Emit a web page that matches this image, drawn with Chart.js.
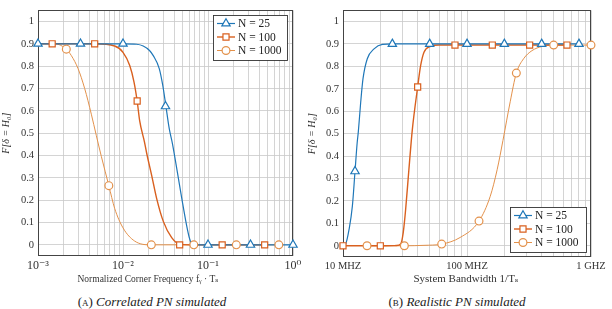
<!DOCTYPE html>
<html><head><meta charset="utf-8">
<script src="https://cdn.jsdelivr.net/npm/chart.js@4.4.1/dist/chart.umd.min.js"></script>
<style>
html,body{margin:0;padding:0;background:#fff;width:612px;height:309px;overflow:hidden}
.wrap{position:absolute;top:0;width:306px;height:290px}
#w1{left:0}#w2{left:306px}
.cap{position:absolute;top:294px;width:306px;text-align:center;font-family:"Liberation Serif","DejaVu Serif",serif;font-size:13px;color:#222;line-height:15px}
.cap i{font-style:italic}
.sc{font-variant:small-caps}
</style></head><body>
<div class="wrap" id="w1"><canvas id="c1" width="306" height="290"></canvas></div>
<div class="wrap" id="w2"><canvas id="c2" width="306" height="290"></canvas></div>
<div class="cap" style="left:-1px"><span class="sc">(a)</span> <i>Correlated PN simulated</i></div>
<div class="cap" style="left:304px"><span class="sc">(b)</span> <i>Realistic PN simulated</i></div>
<script>
// ---------- tick labels ----------
const xTickValsA = [1e-3, 1e-2, 1e-1, 1];
const xTickLabelsA = ['10\u207B\u00B3', '10\u207B\u00B2', '10\u207B\u00B9', '10\u2070'];
const xTickValsB = [1e7, 1e8, 1e9];
const xTickLabelsB = ['10 MHZ', '100 MHZ', '1 GHZ'];
const yTickVals = [0, 0.1, 0.2, 0.3, 0.4, 0.5, 0.6, 0.7, 0.8, 0.9, 1];
const yTickLabels = ['0', '0.1', '0.2', '0.3', '0.4', '0.5', '0.6', '0.7', '0.8', '0.9', '1'];
const seriesLabels = ['N = 25', 'N = 100', 'N = 1000'];

// ---------- chart A: Correlated PN simulated ----------
const a25MarkX = [1e-3, 3.162e-3, 1e-2, 3.162e-2, 0.1, 0.3162, 1];
const a25MarkY = [0.9, 0.9, 0.9, 0.62, 0, 0, 0];
const a25CurveX = [1e-3, 1e-2, 0.0145, 0.0173, 0.0205, 0.0227, 0.0267, 0.0293, 0.0318, 0.0350, 0.0381, 0.0437, 0.0492, 0.0555, 0.0610, 0.0660, 0.1, 1];
const a25CurveY = [0.9, 0.9, 0.898, 0.89, 0.87, 0.847, 0.789, 0.716, 0.627, 0.52, 0.454, 0.323, 0.207, 0.095, 0.025, 0, 0, 0];

const a100MarkX = [1.468e-3, 4.642e-3, 1.468e-2, 4.642e-2, 0.1468, 0.4642];
const a100MarkY = [0.9, 0.9, 0.644, 0, 0, 0];
const a100CurveX = [1e-3, 4.642e-3, 7.98e-3, 0.01, 0.012, 0.01346, 0.01468, 0.0157, 0.0179, 0.0190, 0.0218, 0.0249, 0.0298, 0.0374, 0.0464, 0.06, 0.4642];
const a100CurveY = [0.9, 0.9, 0.89, 0.862, 0.803, 0.73, 0.644, 0.556, 0.46, 0.41, 0.309, 0.207, 0.105, 0.032, 0.003, 0, 0];

const a1000MarkX = [2.154e-3, 6.813e-3, 2.154e-2, 6.813e-2, 0.2154, 0.6813];
const a1000MarkY = [0.876, 0.265, 0, 0, 0, 0];
const a1000CurveX = [1e-3, 1.6e-3, 1.85e-3, 2.154e-3, 2.47e-3, 2.96e-3, 3.54e-3, 4.24e-3, 4.85e-3, 5.56e-3, 6.813e-3, 7.98e-3, 0.01, 0.0137, 0.0215, 0.6813];
const a1000CurveY = [0.9, 0.9, 0.893, 0.876, 0.847, 0.789, 0.70, 0.585, 0.49, 0.396, 0.265, 0.163, 0.076, 0.017, 0, 0];

// ---------- chart B: Realistic PN simulated ----------
const b25MarkX = [1.25e7, 2.5e7, 5e7, 1e8, 2e8, 4e8, 8e8];
const b25MarkY = [0.332, 0.9, 0.9, 0.9, 0.9, 0.9, 0.9];
const b25CurveX = [1e7, 1.05e7, 1.12e7, 1.19e7, 1.25e7, 1.30e7, 1.33e7, 1.39e7, 1.45e7, 1.57e7, 1.78e7, 2.08e7, 2.5e7, 8e8];
const b25CurveY = [0, 0.0075, 0.074, 0.177, 0.332, 0.457, 0.51, 0.642, 0.745, 0.834, 0.878, 0.898, 0.9, 0.9];

const b100MarkX = [1e7, 2e7, 4e7, 8e7, 1.6e8, 3.2e8, 6.4e8];
const b100MarkY = [0, 0, 0.708, 0.895, 0.895, 0.895, 0.895];
const b100CurveX = [1e7, 2e7, 2.7e7, 2.92e7, 3.06e7, 3.2e7, 3.4e7, 3.62e7, 4e7, 4.23e7, 4.5e7, 5.09e7, 5.94e7, 6.4e8];
const b100CurveY = [0, 0, 0.001, 0.008, 0.059, 0.162, 0.34, 0.516, 0.708, 0.804, 0.863, 0.889, 0.895, 0.895];

const b1000MarkX = [1.5625e7, 3.125e7, 6.25e7, 1.25e8, 2.5e8, 5e8, 1e9];
const b1000MarkY = [0, 0, 0.0075, 0.11, 0.77, 0.895, 0.895];
const b1000CurveX = [1.5625e7, 3.125e7, 4.5e7, 6.25e7, 8.8e7, 1.25e8, 1.54e8, 1.75e8, 1.95e8, 2.23e8, 2.5e8, 2.86e8, 3.34e8, 4.03e8, 5e8, 1e9];
const b1000CurveY = [0, 0, 0.002, 0.0075, 0.037, 0.11, 0.221, 0.339, 0.47, 0.642, 0.77, 0.834, 0.87, 0.889, 0.895, 0.895];

// ---------- styling ----------
const FONT = '"Liberation Serif","DejaVu Serif",serif';
const COLORS = ['#1f77b8', '#d9601f', '#e3914b'];
const STYLES = ['triangle', 'rect', 'circle'];
const RADII = [4.8, 4.3, 3.9];
const LWS = [1.2, 1.4, 1.0];
const GRID = '#c9c9c9';

function pts(xs, ys) { return xs.map((x, i) => ({ x: x, y: ys[i] })); }

function makeDatasets(curves, marks) {
  const ds = [];
  curves.forEach((c, i) => {
    ds.push({ label: seriesLabels[i], data: pts(c[0], c[1]), borderColor: COLORS[i], borderWidth: LWS[i],
      pointRadius: 0, cubicInterpolationMode: 'monotone', fill: false, order: 1, isCurve: true });
  });
  marks.forEach((m, i) => {
    ds.push({ label: seriesLabels[i], data: pts(m[0], m[1]), showLine: false, pointStyle: STYLES[i],
      pointRadius: RADII[i], pointBackgroundColor: '#fff', pointBorderColor: COLORS[i], pointBorderWidth: 1.2,
      borderColor: COLORS[i], clip: false, order: 0, isMark: true, lw: LWS[i] });
  });
  return ds;
}

function drawMarker(ctx, style, x, y, r, color) {
  ctx.save();
  ctx.fillStyle = '#fff'; ctx.strokeStyle = color; ctx.lineWidth = 1.2;
  ctx.beginPath();
  if (style === 'triangle') {
    ctx.moveTo(x, y - r);
    ctx.lineTo(x + r * 0.866, y + r * 0.5);
    ctx.lineTo(x - r * 0.866, y + r * 0.5);
    ctx.closePath();
  } else if (style === 'rect') {
    const s = r * Math.SQRT1_2;
    ctx.rect(x - s, y - s, 2 * s, 2 * s);
  } else {
    ctx.arc(x, y, r, 0, Math.PI * 2);
  }
  ctx.fill(); ctx.stroke();
  ctx.restore();
}

const framePlugin = {
  id: 'frame',
  beforeDatasetsDraw(chart) {
    const ctx = chart.ctx, ca = chart.chartArea;
    ctx.save();
    ctx.strokeStyle = '#444'; ctx.lineWidth = 1;
    ctx.strokeRect(Math.round(ca.left) + 0.5, Math.round(ca.top) + 0.5, Math.round(ca.right - ca.left) - 1, Math.round(ca.bottom - ca.top) - 1);
    ctx.restore();
  }
};

const xTitlePlugin = {
  id: 'xTitle',
  afterDraw(chart, args, opts) {
    const ctx = chart.ctx;
    ctx.save();
    ctx.fillStyle = '#333';
    ctx.font = opts.size + 'px ' + FONT;
    ctx.textAlign = 'center'; ctx.textBaseline = 'middle';
    ctx.fillText(opts.text, opts.cx, opts.cy);
    ctx.restore();
  }
};

const legendPlugin = {
  id: 'boxLegend',
  afterDatasetsDraw(chart, args, opts) {
    const ctx = chart.ctx, ca = chart.chartArea;
    const w = opts.width, h = opts.height;
    const x0 = Math.round(ca.right - opts.dx - w);
    const y0 = Math.round(opts.anchor === 'top' ? ca.top + opts.dy : ca.bottom - opts.dy - h);
    ctx.save();
    ctx.fillStyle = '#fff'; ctx.fillRect(x0, y0, w, h);
    ctx.strokeStyle = '#333'; ctx.lineWidth = 0.9; ctx.strokeRect(x0 + 0.5, y0 + 0.5, w, h);
    const marks = chart.data.datasets.filter(d => d.isMark);
    marks.forEach((d, i) => {
      const cy = y0 + 8.5 + i * 13.5;
      ctx.strokeStyle = d.borderColor; ctx.lineWidth = d.lw;
      ctx.beginPath(); ctx.moveTo(x0 + 4, cy); ctx.lineTo(x0 + 22, cy); ctx.stroke();
      drawMarker(ctx, d.pointStyle, x0 + 13, cy, d.pointRadius, d.borderColor);
      ctx.fillStyle = '#222'; ctx.font = '11.5px ' + FONT; ctx.textBaseline = 'middle'; ctx.textAlign = 'left';
      ctx.fillText(d.label, x0 + 25, cy + 0.5);
    });
    ctx.restore();
  }
};

function logGrid(min, max) {
  const out = [];
  for (let e = Math.round(Math.log10(min)); e <= Math.round(Math.log10(max)); e++) {
    for (let m = 1; m <= 9; m++) {
      const v = m * Math.pow(10, e);
      if (v >= min * 0.9999 && v <= max * 1.0001) out.push({ value: v });
    }
  }
  return out;
}

function makeChart(id, datasets, xMin, xMax, xVals, xLabels, xTickSize, xTitleOpts, xH, yW, pad, legendOpts) {
  return new Chart(document.getElementById(id), {
    type: 'line',
    data: { datasets: datasets },
    options: {
      responsive: false, animation: false, devicePixelRatio: 1,
      layout: { padding: pad },
      plugins: { legend: { display: false }, tooltip: { enabled: false }, boxLegend: legendOpts, xTitle: xTitleOpts },
      scales: {
        x: {
          type: 'logarithmic', min: xMin, max: xMax,
          afterBuildTicks(s) { s.ticks = logGrid(xMin, xMax); },
          afterFit(s) { s.height = xH; },
          grid: { color: GRID, lineWidth: 0.8, drawTicks: false },
          border: { display: false },
          ticks: {
            autoSkip: false, maxRotation: 0, minRotation: 0, padding: 3, color: '#333',
            font: { family: FONT, size: xTickSize },
            callback(v) {
              const i = xVals.findIndex(t => Math.abs(Math.log10(t) - Math.log10(v)) < 1e-6);
              return i >= 0 ? xLabels[i] : '';
            }
          },
          title: { display: false }
        },
        y: {
          type: 'linear', min: -0.05, max: 1.05,
          afterBuildTicks(s) { s.ticks = yTickVals.map(v => ({ value: v })); },
          afterFit(s) { s.width = yW; },
          grid: { color: GRID, lineWidth: 0.8, drawTicks: false },
          border: { display: false },
          ticks: {
            padding: 4, color: '#333', font: { family: FONT, size: 10.5 },
            callback(v) {
              const i = yTickVals.findIndex(t => Math.abs(t - v) < 1e-6);
              return i >= 0 ? yTickLabels[i] : '';
            }
          },
          title: { display: true, text: 'F[\u03B4 = H\u2080]', color: '#333', font: { family: FONT, size: 10, style: 'italic' }, padding: { top: 0, bottom: 2 } }
        }
      }
    },
    plugins: [framePlugin, legendPlugin, xTitlePlugin]
  });
}

makeChart('c1',
  makeDatasets([[a25CurveX, a25CurveY], [a100CurveX, a100CurveY], [a1000CurveX, a1000CurveY]],
               [[a25MarkX, a25MarkY], [a100MarkX, a100MarkY], [a1000MarkX, a1000MarkY]]),
  1e-3, 1, xTickValsA, xTickLabelsA, 12,
  { text: 'Normalized Corner Frequency f\u1D67 \u00B7 T\u209B', cx: 148, cy: 279, size: 9.5 },
  34, 38, { left: 0, right: 13, top: 3, bottom: 0 },
  { width: 74, height: 45, dx: 6, dy: 5, anchor: 'top' });

makeChart('c2',
  makeDatasets([[b25CurveX, b25CurveY], [b100CurveX, b100CurveY], [b1000CurveX, b1000CurveY]],
               [[b25MarkX, b25MarkY], [b100MarkX, b100MarkY], [b1000MarkX, b1000MarkY]]),
  1e7, 1e9, xTickValsB, xTickLabelsB, 10.5,
  { text: 'System Bandwidth 1/T\u209B', cx: 160, cy: 279, size: 11 },
  33, 37, { left: 0, right: 21, top: 9.5, bottom: 0 },
  { width: 76, height: 45, dx: 5, dy: 5, anchor: 'bottom' });
</script>
</body></html>
